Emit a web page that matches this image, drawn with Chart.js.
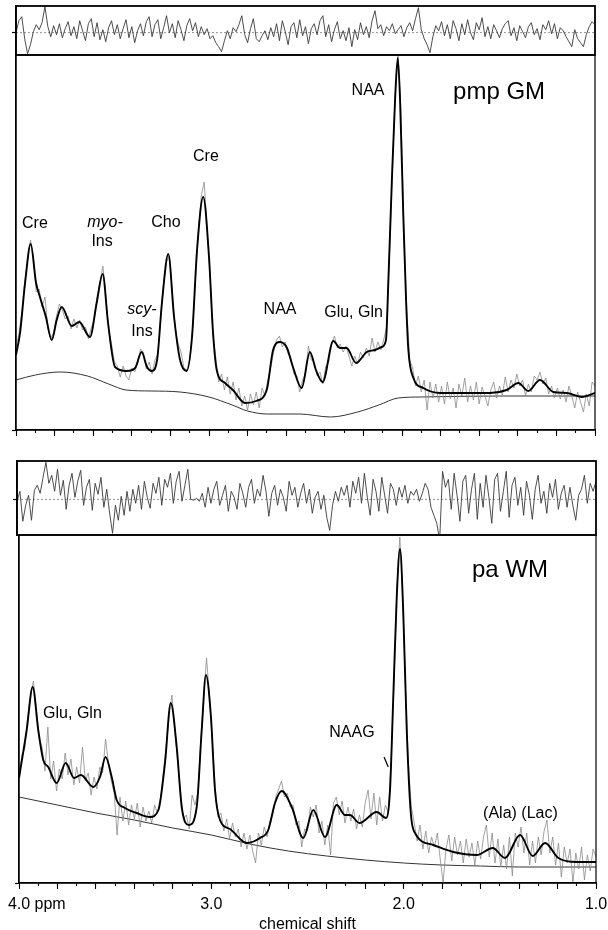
<!DOCTYPE html>
<html>
<head>
<meta charset="utf-8">
<script src="https://cdn.jsdelivr.net/npm/chart.js@4.4.1/dist/chart.umd.min.js"></script>
<style>
  html, body { margin: 0; padding: 0; background: #fff; overflow: hidden; }
  body { width: 608px; height: 930px; position: relative; }
  canvas { position: absolute; left: 0; }
</style>
</head>
<body>
<canvas id="gmResid" width="608" height="60" style="top:0px"></canvas>
<canvas id="gmMain" width="608" height="387" style="top:53px"></canvas>
<canvas id="wmResid" width="608" height="84" style="top:455px"></canvas>
<canvas id="wmMain" width="608" height="401" style="top:533px"></canvas>
<script>
// chemical shift in ppm, intensities in arbitrary units

// --- pmp GM (top panel) ---
const gmResidual = [
  0, 12, 16, -6, -21, -12, 1, 8, 3, 10,
  26, 6, -4, 7, -2, 9, -5, 4, 11, -3,
  6, -6, 12, 2, -8, 9, 14, -4, 10, -7,
  3, -9, 5, 12, -2, 8, -6, 4, 13, -5,
  6, -10, 2, 9, -3, 11, 16, -4, 8, 13,
  -6, 5, 17, 0, 9, -5, 12, 3, -8, 7,
  14, 2, 10, -4, 6, -2, 4, -6, -3, -10,
  -14, -19, -8, 2, -6, 5, 1, 8, 17, -2,
  -10, 4, 14, -6, -9, -3, 2, -7, 5, -4,
  9, -8, 12, 1, -12, 6, 10, -5, 13, -3,
  6, -11, 4, 9, -2, 12, 17, -4, 8, -9,
  3, 11, -6, 2, -8, 5, -14, 3, -7, 10,
  -2, 6, -5, 12, 22, 4, 8, -3, 6, 2,
  9, -1, 3, 7, -4, 5, 10, 2, 14, 25,
  3, -6, -12, -20, -4, 7, 2, 11, -3, 8,
  -6, 12, 4, -8, 9, -2, 13, 0, -7, 10,
  3, 15, -4, 6, -6, 8, 2, -5, 4, 9,
  12, -3, 5, -8, 7, 1, -5, 6, 10, -2,
  4, -7, 8, 3, 12, -1, 9, -6, 5, 2,
  -4, -9, -14, 3, -6, -10, -14, -2, 6, 11, 8
];
const gmRaw = [
  85, 98, 120, 150, 172, 192, 175, 140, 143, 125,
  135, 104, 94, 99, 116, 128, 122, 113, 116, 103,
  113, 104, 112, 102, 105, 93, 104, 112, 136, 149,
  166, 138, 102, 88, 70, 66, 55, 66, 56, 52,
  64, 60, 68, 83, 80, 63, 70, 58, 72, 78,
  115, 148, 170, 176, 139, 104, 88, 80, 64, 62,
  72, 103, 152, 200, 236, 250, 205, 158, 98, 75,
  50, 58, 42, 55, 38, 50, 32, 44, 26, 36,
  22, 38, 27, 40, 24, 44, 36, 52, 64, 80,
  92, 96, 85, 90, 78, 74, 58, 56, 40, 52,
  58, 86, 72, 70, 56, 60, 48, 66, 70, 88,
  96, 84, 88, 80, 86, 76, 66, 76, 68, 80,
  74, 84, 76, 94, 80, 90, 82, 92, 105, 178,
  262, 338, 376, 318, 193, 122, 72, 64, 46, 56,
  40, 52, 22, 50, 34, 48, 30, 46, 28, 50,
  33, 44, 24, 48, 36, 54, 30, 46, 32, 50,
  28, 45, 36, 26, 42, 50, 34, 46, 37, 55,
  40, 52, 44, 58, 46, 52, 36, 48, 40, 56,
  52, 60, 48, 54, 38, 46, 34, 44, 33, 42,
  30, 46, 36, 24, 40, 30, 20, 38, 26, 50, 46
];
const gmFitShift = [
  4.000, 3.979, 3.953, 3.924, 3.896, 3.876, 3.845, 3.815, 3.789, 3.763,
  3.711, 3.672, 3.617, 3.582, 3.551, 3.523, 3.487, 3.426, 3.383, 3.349,
  3.321, 3.297, 3.269, 3.244, 3.211, 3.181, 3.150, 3.116, 3.088, 3.062,
  3.030, 3.000, 2.979, 2.960, 2.917, 2.876, 2.813, 2.756, 2.701, 2.668,
  2.632, 2.596, 2.565, 2.520, 2.477, 2.446, 2.411, 2.356, 2.321, 2.287,
  2.238, 2.183, 2.140, 2.105, 2.083, 2.071, 2.053, 2.036, 2.022, 2.010,
  1.993, 1.979, 1.967, 1.941, 1.890, 1.803, 1.665, 1.544, 1.458, 1.397,
  1.346, 1.285, 1.216, 1.147, 1.069, 1.000
];
const gmFit = [
  77, 99, 149, 188, 149, 135, 115, 92, 112, 125,
  106, 110, 95, 129, 158, 109, 65, 61, 64, 80,
  65, 61, 72, 129, 178, 115, 72, 61, 95, 182,
  235, 175, 99, 62, 49, 42, 29, 31, 42, 82,
  90, 84, 65, 44, 80, 62, 50, 91, 84, 84,
  69, 80, 82, 85, 92, 149, 249, 332, 374, 332,
  215, 132, 82, 54, 44, 39, 39, 39, 42, 49,
  41, 52, 40, 39, 35, 39
];
const gmBaseShift = [4.0, 3.9, 3.77, 3.63, 3.52, 3.43, 3.3, 3.15, 3.0, 2.88, 2.8, 2.7, 2.53, 2.37, 2.23, 2.12, 2.02, 1.9, 1.5, 1.0];
const gmBaseline = [52, 57, 60, 56, 48, 42, 41, 40, 35, 27, 21, 18, 18, 15, 20, 27, 34, 35, 36, 36];

// --- pa WM (bottom panel) ---
const wmResidual = [
  -2, 8, -22, -6, 4, -21, 9, 14, 6, 22,
  37, 16, 24, 8, 30, 4, 19, -10, 14, 26,
  2, 18, 29, -6, 12, 20, -11, 16, 5, 22,
  -8, 10, -14, -34, -6, -21, 3, -16, 8, -12,
  10, -4, 14, -10, 18, 2, -9, 16, 6, 22,
  -6, 20, 12, 26, -4, 18, 28, -2, 14, 30,
  0, -1, 1, -2, 6, -8, 12, -4, 10, 18,
  -6, 4, 14, -12, 8, 2, -10, 16, 6, -8,
  12, 20, -4, 10, 3, 24, 8, -17, 6, 14,
  -6, 10, 2, -12, 18, 4, 12, -8, 6, 16,
  -4, 10, -14, 2, 8, -10, 4, -18, -31, -6,
  8, -2, 12, 4, 14, -8, 18, 6, 22, -4,
  26, 2, -16, 20, 8, -12, 22, 4, -14, 16,
  10, -6, 12, 2, 14, -4, 8, 4, 10, -2,
  6, 16, 10, -8, -16, -24, -41, 28, 12, 20,
  -10, 26, 4, -22, 18, 24, -14, 10, 26, -20,
  16, -8, 24, 2, -24, 20, 26, -12, 8, 28,
  -18, 14, 22, -6, 12, -16, 18, 4, -20, 10,
  24, -4, 8, -14, 16, 2, 20, -10, 6, 14,
  -8, 12, -6, -21, 4, 10, 24, -4, 16, 8, 18
];
const wmRaw = [
  94, 122, 128, 160, 180, 196, 170, 138, 130, 106,
  150, 98, 116, 86, 108, 98, 124, 102, 118, 92,
  110, 94, 130, 96, 104, 82, 100, 88, 110, 104,
  138, 114, 96, 84, 42, 80, 56, 76, 52, 72,
  58, 74, 50, 70, 56, 66, 54, 72, 64, 78,
  104, 130, 160, 182, 148, 114, 86, 58, 62, 48,
  82, 72, 84, 136, 178, 219, 182, 136, 90, 60,
  64, 46, 58, 38, 54, 40, 48, 30, 44, 28,
  42, 26, 14, 44, 32, 50, 40, 56, 62, 80,
  88, 96, 80, 84, 70, 72, 52, 56, 30, 48,
  46, 70, 60, 72, 44, 56, 32, 52, 22, 74,
  80, 62, 76, 54, 70, 56, 68, 48, 62, 50,
  74, 87, 58, 84, 52, 80, 56, 72, 64, 118,
  196, 290, 340, 280, 186, 112, 70, 54, 36, 52,
  28, 46, 24, 40, 30, 44, 18, -6, 28, 42,
  16, 40, 22, 36, 14, 38, 20, 34, 12, 36,
  18, 40, 52, 20, 44, 14, 38, 10, 32, 8,
  40, 1, 44, 30, 50, 24, 44, 12, 36, 14,
  40, 22, 46, 57, 24, 40, 12, 34, 0, 30,
  14, 28, -5, 24, 8, 30, -3, 22, 6, 28, 20
];
const wmFitShift = [
  4.000, 3.960, 3.929, 3.900, 3.874, 3.848, 3.804, 3.757, 3.714, 3.678,
  3.614, 3.579, 3.550, 3.518, 3.492, 3.449, 3.388, 3.319, 3.275, 3.241,
  3.211, 3.180, 3.154, 3.116, 3.076, 3.050, 3.028, 3.002, 2.981, 2.955,
  2.903, 2.816, 2.747, 2.704, 2.669, 2.634, 2.582, 2.522, 2.470, 2.409,
  2.348, 2.305, 2.279, 2.230, 2.140, 2.092, 2.071, 2.054, 2.036, 2.019,
  2.002, 1.984, 1.963, 1.941, 1.846, 1.742, 1.620, 1.537, 1.473, 1.395,
  1.329, 1.265, 1.196, 1.100, 1.000
];
const wmFit = [
  99, 147, 190, 147, 117, 110, 94, 114, 99, 102,
  90, 100, 120, 100, 77, 69, 64, 60, 67, 114,
  174, 130, 70, 52, 70, 147, 202, 160, 87, 57,
  48, 34, 39, 47, 74, 86, 70, 39, 67, 40,
  72, 62, 62, 54, 65, 59, 87, 180, 280, 328,
  264, 147, 64, 44, 32, 25, 22, 29, 19, 42,
  21, 34, 19, 15, 15
];
const wmBaseShift = [4.0, 3.8, 3.6, 3.4, 3.2, 3.0, 2.8, 2.6, 2.4, 2.2, 2.0, 1.8, 1.6, 1.4, 1.2, 1.0];
const wmBaseline = [80, 72, 64, 57, 49, 42, 33, 26, 21, 17, 14, 12, 11, 10, 10, 10];

// axis labels
const majorShifts = [4.0, 3.0, 2.0, 1.0];
const majorLabels = ["        4.0 ppm", "3.0", "2.0", "1.0"];
const zeroShift = [4.0, 1.0];
const zeroLine = [0, 0];

const gmLabels = [
  { text: "Cre", ppm: 3.902, value: 208 },
  { text: "myo-", ppm: 3.539, value: 209, italic: true },
  { text: "Ins", ppm: 3.554, value: 190 },
  { text: "scy-", ppm: 3.347, value: 122, italic: true },
  { text: "Ins", ppm: 3.347, value: 100 },
  { text: "Cho", ppm: 3.223, value: 209 },
  { text: "Cre", ppm: 3.016, value: 275 },
  { text: "NAA", ppm: 2.632, value: 122 },
  { text: "Glu, Gln", ppm: 2.251, value: 119 },
  { text: "NAA", ppm: 2.176, value: 341 },
  { text: "pmp GM", ppm: 1.497, value: 340, size: 24 },
];
const wmLabels = [
  { text: "Glu, Gln", ppm: 3.722, value: 163 },
  { text: "NAAG", ppm: 2.269, value: 144 },
  { line: [[2.102, 120], [2.080, 110]] },
  { text: "pa WM", ppm: 1.447, value: 307, size: 24 },
  { text: "(Ala) (Lac)", ppm: 1.393, value: 63 },
];

const FONT = "'Liberation Sans', Arial, Helvetica, sans-serif";
Chart.defaults.font.family = FONT;
Chart.defaults.color = "#000";

// sampling grid of the measured points (4.0 -> 1.0 ppm)
const sampleShift = gmRaw.map((_, i) => Number((4 - i * 0.015).toFixed(3)));

(function () {
  try {
    init();
  } catch (error) {
    console.log(error);
  }
})();

function init() {
  renderResidual("#gmResid", gmResidual, { top: 6, bottom: 5, right: 13 }, 16, -22.3, 26.7);
  renderSpectrum("#gmMain", {
    raw: gmRaw, fitShift: gmFitShift, fit: gmFit, baseShift: gmBaseShift, baseline: gmBaseline,
    labels: gmLabels, padding: { top: 2, bottom: 0, right: 13 }, yWidth: 16,
    yMin: 2, yMax: 377, axisHeight: 10, showLabels: false,
  });
  renderResidual("#wmResid", wmResidual, { top: 6, bottom: 4, right: 12 }, 17, -35.7, 38.3);
  renderSpectrum("#wmMain", {
    raw: wmRaw, fitShift: wmFitShift, fit: wmFit, baseShift: wmBaseShift, baseline: wmBaseline,
    labels: wmLabels, padding: { top: 2, bottom: 0, right: 12 }, yWidth: 19,
    yMin: -6, yMax: 342, axisHeight: 51, showLabels: true,
  });
}

function toPoints(shifts, values) {
  return values.map((value, index) => ({ x: shifts[index], y: value }));
}

function fixedSize(size) {
  return function (scale) {
    if (scale.isHorizontal()) {
      scale.height = size;
    } else {
      scale.width = size;
    }
    scale.paddingLeft = 0;
    scale.paddingRight = 0;
    scale.paddingTop = 0;
    scale.paddingBottom = 0;
  };
}

function shiftLabel(value) {
  const index = majorShifts.findIndex((s) => Math.abs(s - value) < 1e-6);
  return index >= 0 ? majorLabels[index] : "";
}

function framePlugin(width) {
  return {
    id: "frame",
    afterDraw(chart) {
      const { ctx, chartArea: a } = chart;
      ctx.save();
      ctx.strokeStyle = "#000";
      ctx.lineWidth = width;
      ctx.strokeRect(a.left, a.top, a.right - a.left, a.bottom - a.top);
      ctx.restore();
    },
  };
}

function labelPlugin(items) {
  return {
    id: "peakLabels",
    afterDatasetsDraw(chart) {
      const { ctx } = chart;
      const x = chart.scales.x;
      const y = chart.scales.y;
      ctx.save();
      ctx.fillStyle = "#000";
      ctx.strokeStyle = "#000";
      ctx.textAlign = "center";
      ctx.textBaseline = "middle";
      for (const item of items) {
        if (item.line) {
          ctx.lineWidth = 1.2;
          ctx.beginPath();
          ctx.moveTo(x.getPixelForValue(item.line[0][0]), y.getPixelForValue(item.line[0][1]));
          ctx.lineTo(x.getPixelForValue(item.line[1][0]), y.getPixelForValue(item.line[1][1]));
          ctx.stroke();
          continue;
        }
        ctx.font = (item.italic ? "italic " : "") + (item.size || 16) + "px " + FONT;
        ctx.fillText(item.text, x.getPixelForValue(item.ppm), y.getPixelForValue(item.value));
      }
      ctx.restore();
    },
  };
}

function leftAxis(width, min, max, tickValue) {
  return {
    type: "linear",
    position: "left",
    min: min,
    max: max,
    afterFit: fixedSize(width),
    afterBuildTicks: (scale) => {
      scale.ticks = [{ value: tickValue }];
    },
    ticks: { callback: () => "" },
    grid: { drawOnChartArea: false, tickLength: 4, color: "#000", tickWidth: 1.2 },
    border: { color: "#000", width: 1.4 },
  };
}

function renderResidual(selector, values, padding, yWidth, yMin, yMax) {
  const context = document.querySelector(selector).getContext("2d");
  return new Chart(context, {
    type: "line",
    data: {
      datasets: [
        {
          data: toPoints(sampleShift, values),
          borderColor: "#3a3a3a",
          borderWidth: 0.9,
          pointRadius: 0,
          tension: 0,
          order: 0,
        },
        {
          data: toPoints(zeroShift, zeroLine),
          borderColor: "#777",
          borderWidth: 0.8,
          borderDash: [2, 2],
          pointRadius: 0,
          order: 1,
        },
      ],
    },
    options: {
      responsive: false,
      animation: false,
      devicePixelRatio: 1,
      layout: { padding: { top: padding.top, bottom: padding.bottom, right: padding.right, left: 0 } },
      scales: {
        x: { type: "linear", reverse: true, min: 1, max: 4, display: false },
        y: leftAxis(yWidth, yMin, yMax, 0),
      },
      plugins: { legend: { display: false }, tooltip: { enabled: false } },
    },
    plugins: [framePlugin(1.8)],
  });
}

function renderSpectrum(selector, setup) {
  const context = document.querySelector(selector).getContext("2d");
  return new Chart(context, {
    type: "line",
    data: {
      datasets: [
        {
          label: "fit",
          data: toPoints(setup.fitShift, setup.fit),
          borderColor: "#000",
          borderWidth: 1.9,
          pointRadius: 0,
          cubicInterpolationMode: "monotone",
          xAxisID: "x",
          order: 0,
        },
        {
          label: "measured",
          data: toPoints(sampleShift, setup.raw),
          borderColor: "#8a8a8a",
          borderWidth: 0.8,
          pointRadius: 0,
          tension: 0,
          xAxisID: "x",
          order: 1,
        },
        {
          label: "baseline",
          data: toPoints(setup.baseShift, setup.baseline),
          borderColor: "#333",
          borderWidth: 1,
          pointRadius: 0,
          cubicInterpolationMode: "monotone",
          xAxisID: "x",
          order: 2,
        },
      ],
    },
    options: {
      responsive: false,
      animation: false,
      devicePixelRatio: 1,
      layout: { padding: { top: setup.padding.top, bottom: setup.padding.bottom, right: setup.padding.right, left: 0 } },
      scales: {
        x: {
          type: "linear",
          axis: "x",
          position: "bottom",
          reverse: true,
          min: 1,
          max: 4,
          afterFit: fixedSize(setup.axisHeight),
          ticks: {
            stepSize: 0.1,
            maxTicksLimit: 100,
            autoSkip: false,
            maxRotation: 0,
            padding: 9,
            font: { size: 16 },
            color: "#000",
            callback: (value) => (setup.showLabels ? shiftLabel(value) : ""),
          },
          grid: { drawOnChartArea: false, tickLength: 3, color: "#000", tickWidth: 1.1 },
          border: { color: "#000", width: 1.4 },
          title: {
            display: setup.showLabels,
            text: "chemical shift",
            font: { size: 16 },
            color: "#000",
            padding: 0,
          },
        },
        xMajor: {
          type: "linear",
          axis: "x",
          position: { y: setup.yMin },
          reverse: true,
          min: 1,
          max: 4,
          afterFit: fixedSize(0),
          ticks: { stepSize: 0.2, maxTicksLimit: 100, autoSkip: false, maxRotation: 0, callback: () => "" },
          grid: { drawOnChartArea: false, tickLength: 6, color: "#000", tickWidth: 1.1 },
          border: { display: false },
        },
        y: leftAxis(setup.yWidth, setup.yMin, setup.yMax, setup.yMin),
      },
      plugins: { legend: { display: false }, tooltip: { enabled: false } },
    },
    plugins: [framePlugin(1.2), labelPlugin(setup.labels)],
  });
}
</script>
</body>
</html>
